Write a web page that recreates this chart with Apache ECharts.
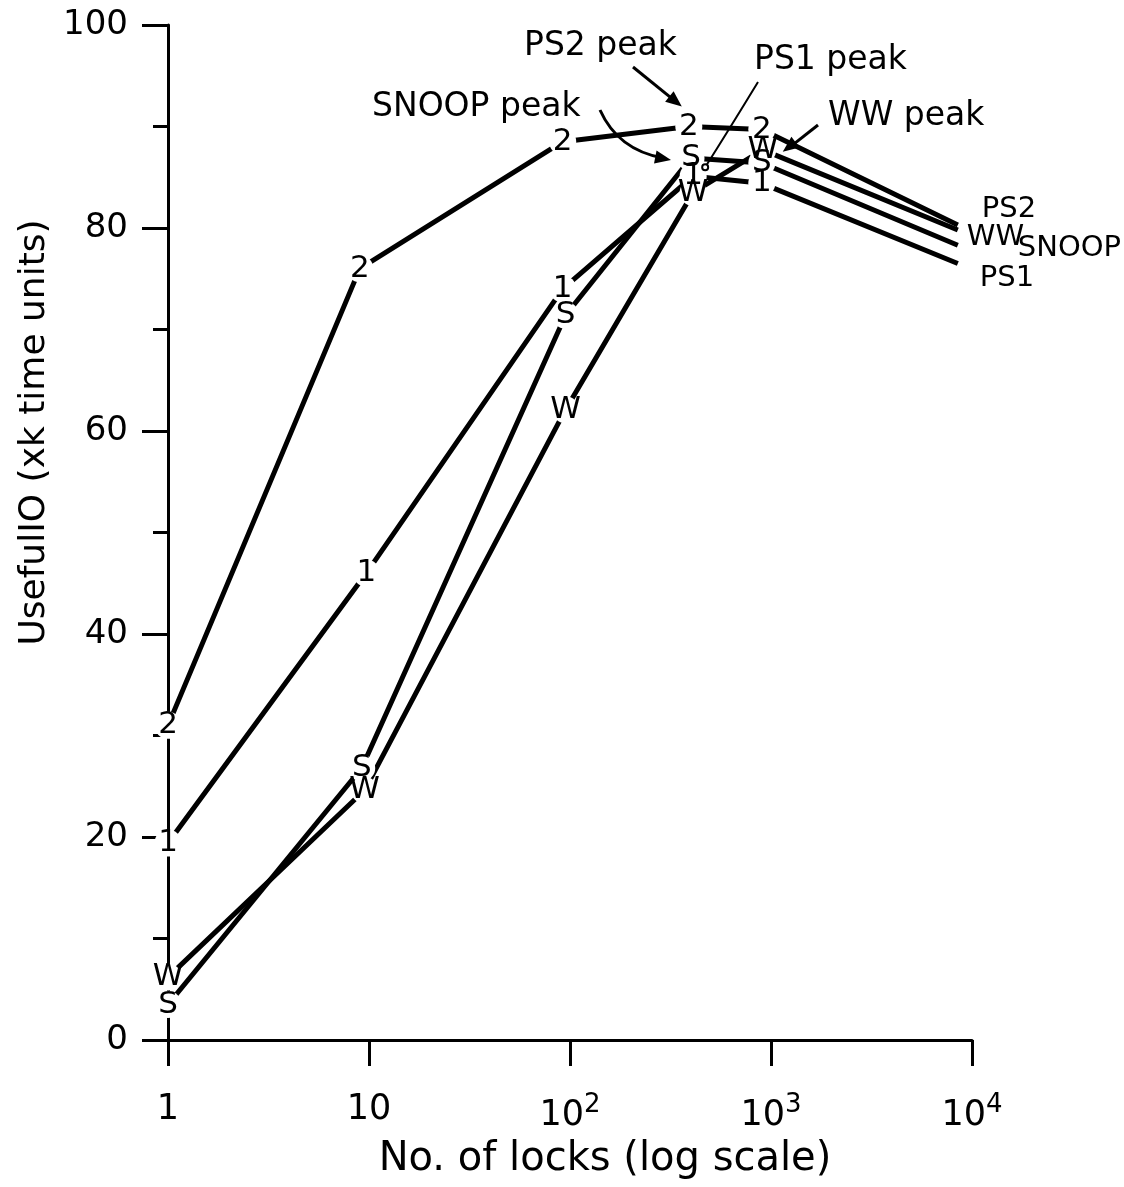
<!DOCTYPE html>
<html><head><meta charset="utf-8">
<script src="https://cdn.jsdelivr.net/npm/echarts@6/dist/echarts.min.js"></script>
<style>html,body{margin:0;padding:0;background:#fff}#c{width:1124px;height:1187px}</style>
</head><body><div id="c"></div>
<script>
// ---- data ----
const xTickLabels = {1:'1', 10:'10', 100:'10{sup|2}', 1000:'10{sup|3}', 10000:'10{sup|4}'};
const ps2X   = [1, 9,   92, 390, 900, 8500];
const ps2Y   = [31, 76, 88.5, 90, 89.7, 80.3];
const ps1X   = [1, 9.7, 92, 410, 900, 8500];
const ps1Y   = [19.4, 46, 74, 85.1, 84.4, 76.5];
const snoopX = [1, 9.2, 95, 400, 900, 8500];
const snoopY = [3.5, 26.8, 71.4, 86.9, 86.4, 78.3];
const wwX    = [1, 9.5, 95, 410, 910, 8500];
const wwY    = [6.2, 24.6, 62.1, 83.5, 87.7, 79.8];

const FONT = 'DejaVu Sans';
const chart = echarts.init(document.getElementById('c'), null, {renderer:'canvas'});

function mk(name, ch, xs, ys, endOffset) {
  const last = xs.length - 1;
  return {
    type: 'line', name: name, clip: false, animation: false,
    data: xs.map((x, i) => ({ value: [x, ys[i]], symbol: i === last ? 'none' : 'circle' })),
    symbolSize: 27,
    itemStyle: { color: '#fff', borderWidth: 0 },
    lineStyle: { color: '#000', width: 5 },
    emphasis: { disabled: true },
    label: {
      show: true, position: 'inside', color: '#000', fontSize: 31, fontFamily: FONT,
      formatter: p => (p.dataIndex === last ? '' : ch)
    },
    endLabel: {
      show: true, formatter: name, color: '#000', fontSize: 29, fontFamily: FONT,
      distance: 0, offset: endOffset, align: 'left', verticalAlign: 'middle'
    }
  };
}

const option = {
  backgroundColor: '#fff',
  animation: false,
  grid: { left: 168, right: 152, top: 25, bottom: 147 },
  xAxis: {
    type: 'log', logBase: 10, min: 1, max: 10000, splitNumber: 4,
    name: 'No. of locks (log scale)', nameLocation: 'middle', nameGap: 100,
    nameTextStyle: { fontSize: 40, fontFamily: FONT, color: '#000', padding: [0, 0, 0, 70] },
    axisLine: { show: true, lineStyle: { color: '#000', width: 3 } },
    axisTick: { show: true, length: 26, lineStyle: { color: '#000', width: 3 } },
    splitLine: { show: false },
    axisLabel: {
      margin: 52, color: '#000', fontSize: 35, fontFamily: FONT,
      formatter: v => xTickLabels[Math.round(v)] || '',
      rich: { sup: { fontSize: 26, fontFamily: FONT, color: '#000', verticalAlign: 'top', padding: [0, 0, 22, 0] } }
    }
  },
  yAxis: {
    type: 'value', min: 0, max: 100, interval: 20, z: 3,
    name: 'UsefulIO (xk time units)', nameLocation: 'middle', nameGap: 108,
    nameTextStyle: { fontSize: 36, fontFamily: FONT, color: '#000', padding: [0, 0, 0, 200] },
    axisLine: { show: true, lineStyle: { color: '#000', width: 3 } },
    axisTick: { show: true, length: 26, lineStyle: { color: '#000', width: 3 } },
    minorTick: { show: true, splitNumber: 2, length: 15, lineStyle: { color: '#000', width: 3 } },
    splitLine: { show: false },
    axisLabel: { margin: 40, color: '#000', fontSize: 34, fontFamily: FONT }
  },
  series: [
    mk('PS2', '2', ps2X, ps2Y, [24, -15]),
    mk('WW', 'W', wwX, wwY, [9, 7]),
    mk('SNOOP', 'S', snoopX, snoopY, [60, 3]),
    mk('PS1', '1', ps1X, ps1Y, [22, 15])
  ]
};
chart.setOption(option);

// ---- peak annotations (arrows point at the data points) ----
function px(si, i, xs, ys) { return chart.convertToPixel({ seriesIndex: si }, [xs[i], ys[i]]); }
function head(tip, from, size) {
  const dx = tip[0] - from[0], dy = tip[1] - from[1], L = Math.hypot(dx, dy);
  const ux = dx / L, uy = dy / L, bx = tip[0] - ux * size, by = tip[1] - uy * size;
  const qx = -uy * size * 0.42, qy = ux * size * 0.42;
  return { type: 'polygon', shape: { points: [tip, [bx + qx, by + qy], [bx - qx, by - qy]] }, style: { fill: '#000' }, z: 10 };
}
const pPS2 = px(0, 3, ps2X, ps2Y);
const pSN = px(2, 3, snoopX, snoopY);
const pPS1 = px(3, 3, ps1X, ps1Y);
const pWW = px(1, 4, wwX, wwY);

const tPS2 = [pPS2[0] - 7, pPS2[1] - 20], fPS2 = [633, 67];
const tSN = [pSN[0] - 20, pSN[1] + 2], fSN = [600, 110], cSN = [618, 150];
const tPS1 = [pPS1[0] + 12, pPS1[1] - 9], fPS1 = [758, 82];
const tWW = [pWW[0] + 20, pWW[1] + 2], fWW = [818, 125];

const txt = (s, x, y) => ({ type: 'text', x: x, y: y, z: 10,
  style: { text: s, fontSize: 33, fontFamily: FONT, fill: '#000', textAlign: 'left', textVerticalAlign: 'middle' } });

chart.setOption({
  graphic: [
    txt('PS2 peak', 524, 46),
    txt('PS1 peak', 754, 60),
    txt('SNOOP peak', 372, 107),
    txt('WW peak', 828, 116),
    { type: 'line', z: 10, shape: { x1: fPS2[0], y1: fPS2[1], x2: tPS2[0] + (fPS2[0]-tPS2[0])*0.15, y2: tPS2[1] + (fPS2[1]-tPS2[1])*0.15 }, style: { stroke: '#000', lineWidth: 3 } },
    head(tPS2, fPS2, 16),
    { type: 'bezierCurve', z: 10, shape: { x1: fSN[0], y1: fSN[1], cpx1: cSN[0], cpy1: cSN[1], x2: tSN[0] - 8, y2: tSN[1] - 2 }, style: { stroke: '#000', lineWidth: 3, fill: null } },
    head(tSN, cSN, 16),
    { type: 'bezierCurve', z: 10, shape: { x1: fPS1[0], y1: fPS1[1], cpx1: 730, cpy1: 128, x2: tPS1[0], y2: tPS1[1] }, style: { stroke: '#000', lineWidth: 2, fill: null } },
    { type: 'circle', z: 10, shape: { cx: tPS1[0], cy: tPS1[1], r: 3 }, style: { fill: '#fff', stroke: '#000', lineWidth: 2 } },
    { type: 'line', z: 10, shape: { x1: fWW[0], y1: fWW[1], x2: tWW[0] + 10, y2: tWW[1] - 7 }, style: { stroke: '#000', lineWidth: 3 } },
    head(tWW, fWW, 16)
  ]
});
</script></body></html>
